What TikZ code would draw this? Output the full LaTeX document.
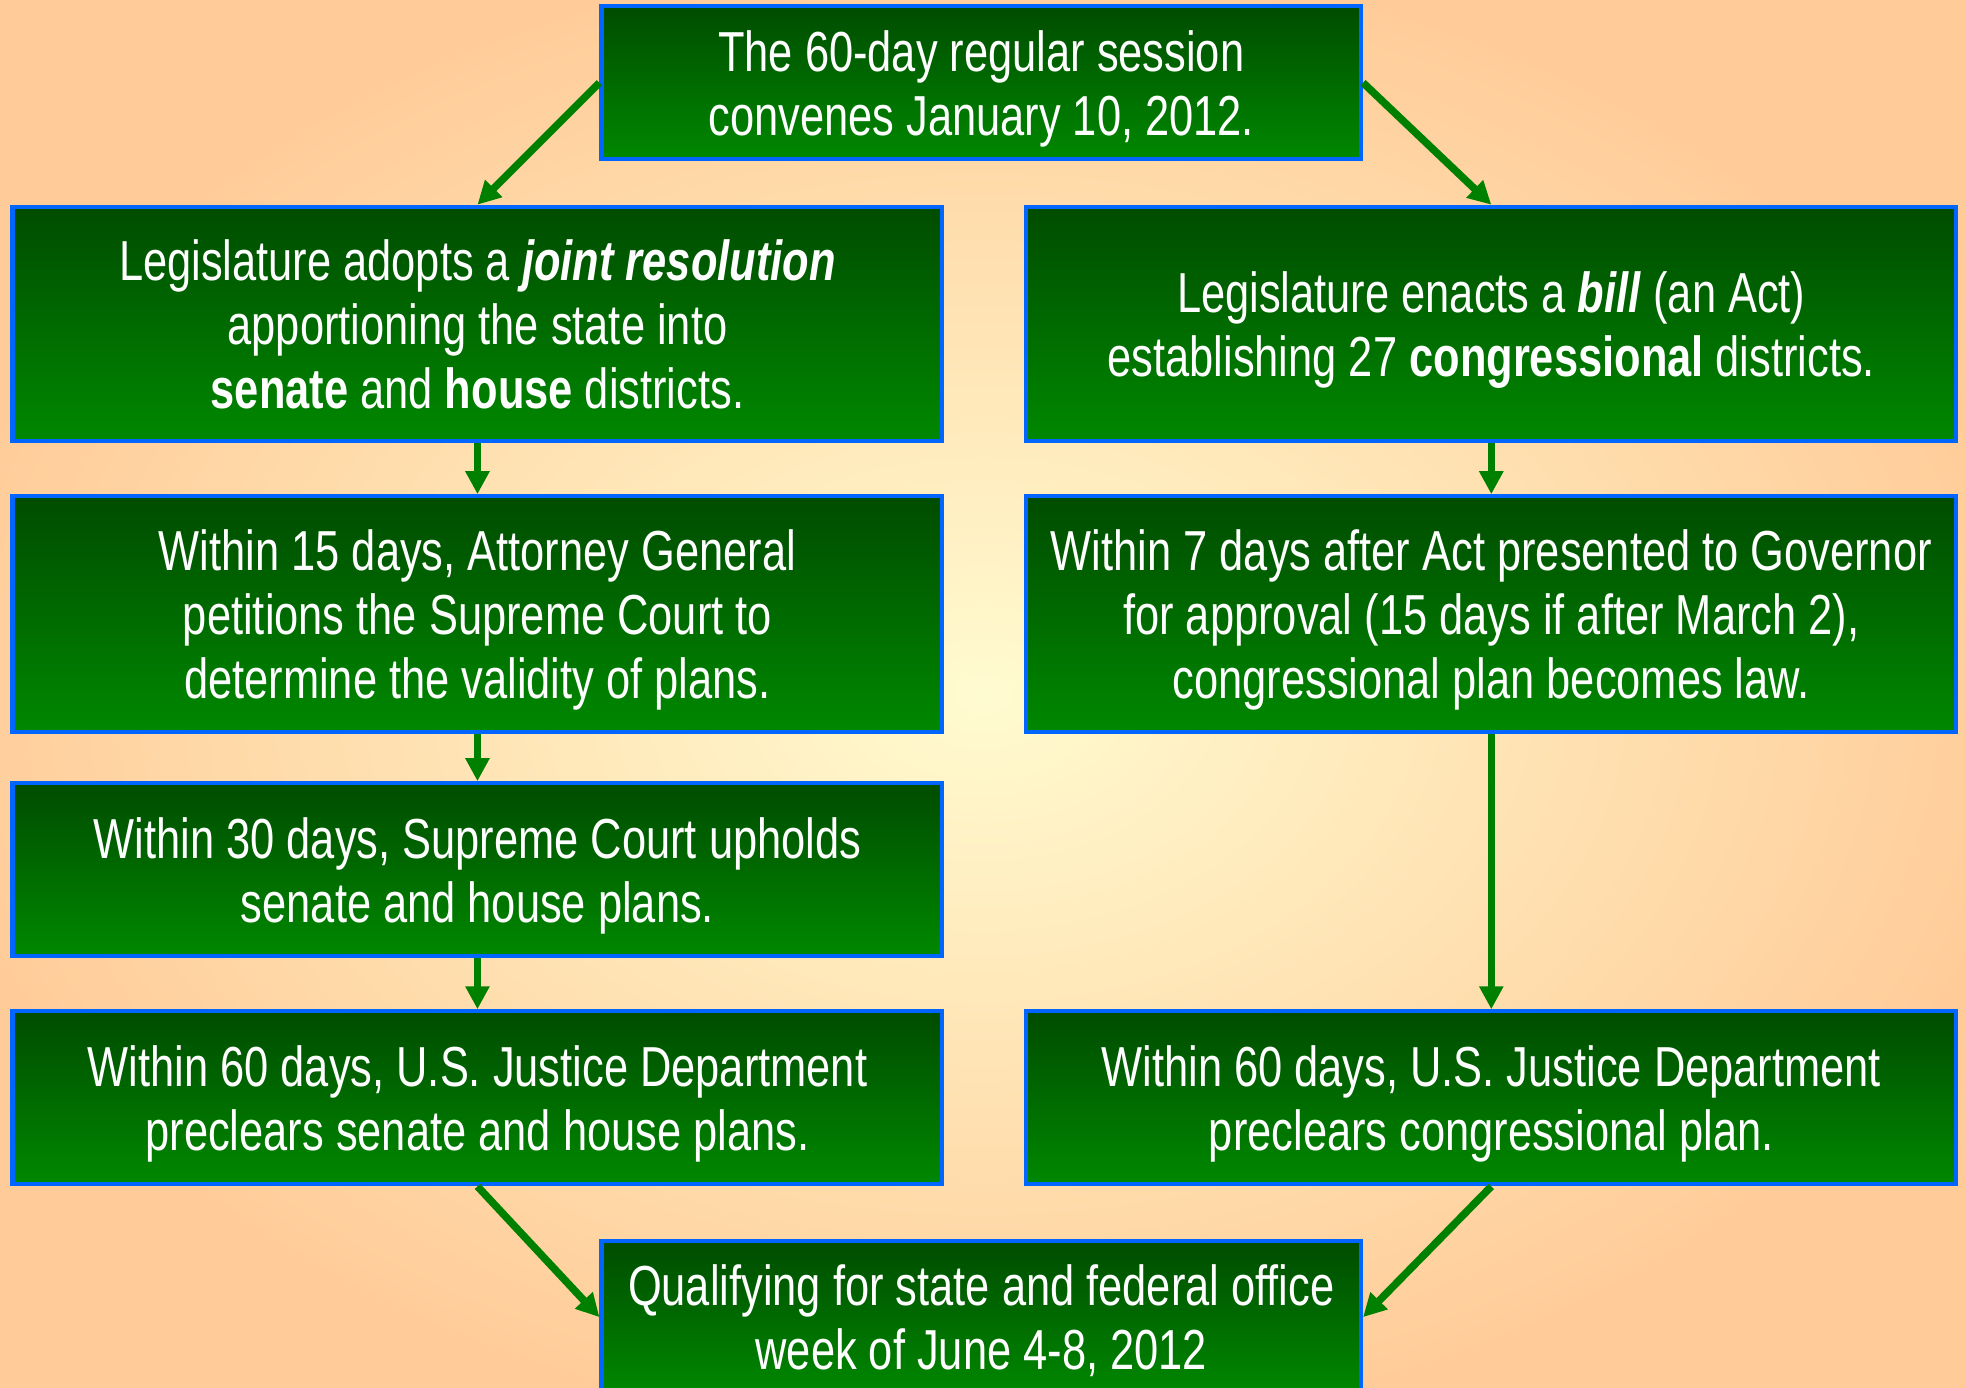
\documentclass[tikz,border=0pt]{standalone}
\usepackage{fontspec}
\setmainfont{Liberation Sans}[FakeStretch=0.77]
\usepackage{tikz}
\usetikzlibrary{arrows.meta,positioning}
\definecolor{boxtop}{RGB}{0,76,0}
\definecolor{boxbot}{RGB}{0,136,0}
\definecolor{boxline}{RGB}{0,102,255}
\definecolor{flowgreen}{RGB}{0,128,0}
\definecolor{bgin}{RGB}{255,251,208}
\definecolor{bgout}{RGB}{255,204,153}
\tikzset{
	stage/.style={draw=boxline, line width=2pt, top color=boxtop, bottom color=boxbot,
		text=white, align=center, inner sep=2pt, text depth=-0.5pt,
		font=\fontsize{27}{30.6}\selectfont},
	stage wide/.style={stage, minimum width=445.2pt, minimum height=#1},
	stage narrow/.style={stage, minimum width=363.6pt, minimum height=73.2pt},
	flow/.style={draw=flowgreen, line width=3.6pt,
		-{Triangle[length=11pt,width=11pt]}}
}
\begin{document}
\begin{tikzpicture}[x=0.6pt, y=-0.6pt]
  \clip (0,0) rectangle (1568,1107);
  \useasboundingbox (0,0) rectangle (1568,1107);
  \fill[inner color=bgin, outer color=bgout] (-60,-40) rectangle (1628,1147); %page background
  \node[stage narrow] (session) at (783,66) {The 60-day regular session\\convenes January 10, 2012.};
  \node[stage wide=112.2pt] (jointres) at (381,258.5)
      {Legislature adopts a \textbf{\textit{joint resolution}}\\apportioning the state into\\\textbf{senate} and \textbf{house} districts.};
  \node[stage wide=112.2pt] (actbill) at (1190,258.5)
      {Legislature enacts a \textbf{\textit{bill}} (an Act)\\establishing 27 \textbf{congressional} districts.};
  \node[stage wide=112.8pt] (petition) at (381,490)
      {Within 15 days, Attorney General\\petitions the Supreme Court to\\determine the validity of plans.};
  \node[stage wide=112.8pt] (govlaw) at (1190,490)
      {Within 7 days after Act presented to Governor\\for approval (15 days if after March 2),\\congressional plan becomes law.};
  \node[stage wide=82.8pt] (upholds) at (381,694)
      {Within 30 days, Supreme Court upholds\\senate and house plans.};
  \node[stage wide=82.8pt] (preclearSH) at (381,876)
      {Within 60 days, U.S. Justice Department\\preclears senate and house plans.};
  \node[stage wide=82.8pt] (preclearC) at (1190,876)
      {Within 60 days, U.S. Justice Department\\preclears congressional plan.};
  \node[stage narrow] (qualify) at (783,1051) {Qualifying for state and federal office\\week of June 4-8, 2012};
  \draw[flow] (session.west) -- (jointres.north);
  \draw[flow] (session.east) -- (actbill.north);
  \draw[flow] (jointres) -- (petition);
  \draw[flow] (petition) -- (upholds);
  \draw[flow] (upholds) -- (preclearSH);
  \draw[flow] (actbill) -- (govlaw);
  \draw[flow] (govlaw) -- (preclearC);
  \draw[flow] (preclearSH.south) -- (qualify.west);
  \draw[flow] (preclearC.south) -- (qualify.east);
\end{tikzpicture}
\end{document}
